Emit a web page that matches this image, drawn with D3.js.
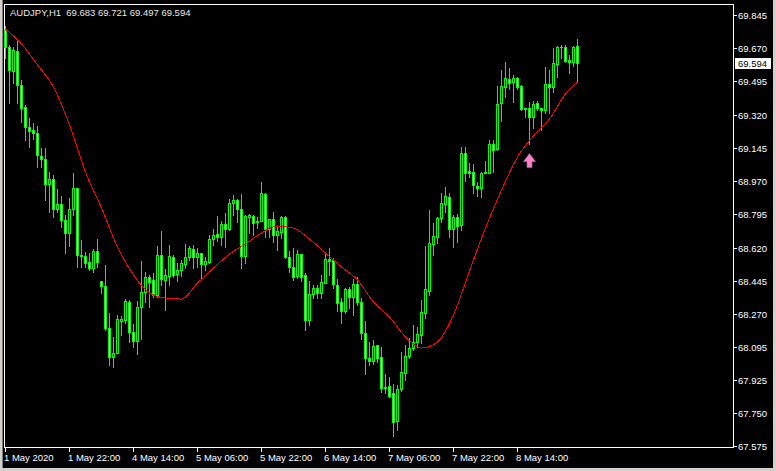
<!DOCTYPE html>
<html><head><meta charset="utf-8">
<script src="https://cdn.jsdelivr.net/npm/d3@7"></script>
<style>html,body{margin:0;padding:0;background:#000;}svg{display:block;}</style>
</head><body>
<script>
const symbolTitle = "AUDJPY,H1  69.683 69.721 69.497 69.594";
const open = [69.766,69.676,69.550,69.655,69.476,69.360,69.255,69.239,69.224,69.102,
69.087,68.955,68.981,68.823,68.850,68.765,68.697,68.823,68.934,68.581,
68.576,68.544,68.512,68.602,68.444,68.418,68.196,68.044,68.065,68.233,
68.239,68.333,68.175,68.128,68.307,68.386,68.465,68.449,68.370,68.581,
68.449,68.470,68.570,68.481,68.502,68.534,68.570,68.613,68.570,68.591,
68.534,68.544,68.665,68.692,68.676,68.744,68.718,68.855,68.871,68.823,
68.576,68.781,68.786,68.755,68.760,68.902,68.718,68.771,68.686,68.702,
68.781,68.570,68.518,68.470,68.586,68.476,68.239,68.376,68.407,68.381,
68.433,68.560,68.555,68.423,68.333,68.286,68.402,68.360,68.428,68.333,
68.170,68.038,68.023,68.107,68.044,67.880,67.891,67.854,67.707,67.875,
67.959,68.049,68.091,68.123,68.160,68.275,68.391,68.639,68.676,68.776,
68.850,68.886,68.718,68.781,68.739,69.118,69.023,69.018,68.944,68.934,
69.018,69.013,69.166,69.139,69.381,69.466,69.508,69.492,69.513,69.471,
69.350,69.355,69.308,69.381,69.355,69.345,69.482,69.466,69.587,69.676,
69.676,69.608,69.597,69.683];
const high = [69.787,69.687,69.676,69.713,69.503,69.371,69.303,69.276,69.260,69.145,
69.145,69.018,69.002,68.929,68.892,68.792,68.881,69.013,68.934,68.660,
68.597,68.591,68.613,68.665,68.444,68.528,68.275,68.149,68.265,68.260,
68.349,68.344,68.218,68.339,68.549,68.491,68.476,68.486,68.628,68.707,
68.507,68.634,68.581,68.539,68.555,68.639,68.628,68.634,68.618,68.591,
68.570,68.686,68.718,68.786,68.760,68.802,68.876,68.897,68.876,68.902,
68.792,68.797,68.792,68.781,68.965,68.908,68.771,68.807,68.728,68.786,
68.786,68.602,68.618,68.607,68.586,68.486,68.444,68.423,68.423,68.476,
68.591,68.618,68.565,68.455,68.354,68.407,68.412,68.455,68.465,68.354,
68.233,68.123,68.133,68.107,68.096,67.954,67.938,67.902,67.896,68.070,
68.107,68.144,68.212,68.202,68.344,68.628,68.818,68.750,68.781,68.908,
68.939,68.908,68.792,68.797,69.150,69.150,69.066,69.060,68.965,69.018,
69.076,69.187,69.187,69.471,69.555,69.597,69.566,69.529,69.518,69.476,
69.355,69.387,69.392,69.392,69.355,69.571,69.555,69.671,69.682,69.687,
69.687,69.634,69.682,69.721];
const low = [69.619,69.381,69.487,69.381,69.281,69.187,69.150,69.192,69.044,69.044,
68.871,68.807,68.781,68.807,68.728,68.591,68.628,68.792,68.518,68.518,
68.518,68.502,68.491,68.518,68.381,68.186,68.002,67.991,68.065,68.160,
68.223,68.123,68.096,68.060,68.139,68.333,68.307,68.360,68.360,68.423,
68.291,68.423,68.465,68.444,68.470,68.512,68.555,68.512,68.518,68.455,
68.502,68.539,68.634,68.655,68.634,68.623,68.713,68.792,68.755,68.512,
68.539,68.697,68.686,68.723,68.760,68.676,68.676,68.649,68.607,68.670,
68.565,68.491,68.449,68.460,68.444,68.186,68.212,68.354,68.354,68.354,
68.433,68.476,68.407,68.286,68.223,68.275,68.302,68.265,68.318,68.139,
67.954,68.002,68.007,68.017,67.859,67.854,67.833,67.628,67.659,67.865,
67.923,68.038,68.081,68.096,68.117,68.249,68.370,68.581,68.644,68.755,
68.807,68.676,68.623,68.649,68.713,68.971,68.992,68.908,68.892,68.886,
69.013,69.013,69.018,69.134,69.287,69.413,69.455,69.387,69.455,69.345,
69.308,69.166,69.250,69.345,69.239,69.329,69.329,69.439,69.518,69.619,
69.597,69.540,69.576,69.497];
const close = [69.676,69.555,69.661,69.476,69.355,69.255,69.234,69.224,69.108,69.087,
68.955,68.981,68.823,68.850,68.765,68.697,68.823,68.934,68.581,68.576,
68.539,68.512,68.602,68.544,68.418,68.196,68.044,68.065,68.244,68.244,
68.339,68.175,68.128,68.307,68.386,68.465,68.439,68.370,68.581,68.455,
68.476,68.576,68.476,68.502,68.539,68.570,68.618,68.570,68.591,68.534,
68.549,68.665,68.686,68.676,68.744,68.718,68.855,68.871,68.823,68.576,
68.786,68.792,68.750,68.760,68.908,68.718,68.771,68.686,68.707,68.781,
68.570,68.518,68.465,68.586,68.465,68.239,68.376,68.407,68.381,68.439,
68.560,68.549,68.428,68.328,68.286,68.402,68.360,68.428,68.333,68.170,
68.038,68.023,68.102,68.038,67.880,67.886,67.838,67.701,67.875,67.965,
68.049,68.091,68.123,68.165,68.281,68.402,68.644,68.681,68.776,68.855,
68.892,68.718,68.781,68.734,69.118,69.013,69.013,68.950,68.934,69.013,
69.013,69.166,69.134,69.376,69.471,69.513,69.487,69.513,69.466,69.350,
69.355,69.308,69.376,69.355,69.345,69.482,69.466,69.592,69.676,69.676,
69.603,69.597,69.676,69.594];
const maIndex = [0,4,8,12,16,20,24,28,32,36,40,44,48,52,56,60,64,68,72,76,80,84,88,92,96,100,104,108,112,116,120,124,128,132,136,140,143];
const maValue = [69.771,69.692,69.582,69.466,69.266,69.018,68.829,68.623,68.476,68.381,68.354,68.349,68.433,68.512,68.586,68.639,68.697,68.734,68.723,68.665,68.591,68.518,68.449,68.333,68.254,68.149,68.091,68.123,68.265,68.497,68.723,68.923,69.097,69.208,69.297,69.429,69.492];
const timeTickIndex = [0,16,32,48,64,80,96,112,128];
const timeTickLabels = ["1 May 2020","1 May 22:00","4 May 14:00","5 May 06:00","5 May 22:00","6 May 14:00","7 May 06:00","7 May 22:00","8 May 14:00"];
const priceTicks = [69.845,69.670,69.495,69.320,69.145,68.970,68.795,68.620,68.445,68.270,68.095,67.925,67.750,67.575];
const lastPrice = 69.594;
const arrowIndex = 131, arrowPrice = 69.115;

const W = 776, H = 471;
const svg = d3.select("body").append("svg").attr("width", W).attr("height", H)
  .style("font-family", "'Liberation Sans', Arial, sans-serif");
svg.append("rect").attr("width", W).attr("height", H).attr("fill", "#000");

const x = d3.scaleLinear().domain([0, 143]).range([5, 577]);
const y = d3.scaleLinear().domain([67.575, 69.845]).range([446, 15]);
const py = v => Math.round(y(v));

// window frame (gray)
svg.append("rect").attr("x",0).attr("y",0).attr("width",2).attr("height",H).attr("fill","#d4d0c8");
svg.append("rect").attr("x",2).attr("y",0).attr("width",1).attr("height",H).attr("fill","#808080");
svg.append("rect").attr("x",W-3).attr("y",0).attr("width",3).attr("height",H).attr("fill","#d4d0c8");
svg.append("rect").attr("x",0).attr("y",H-3).attr("width",W).attr("height",3).attr("fill","#d4d0c8");

// chart border
const g = svg.append("g").attr("shape-rendering","crispEdges");
g.append("rect").attr("x",4.5).attr("y",4.5).attr("width",729).attr("height",443)
  .attr("fill","none").attr("stroke","#fff").attr("stroke-width",1);

// candles
const data = open.map((o,i)=>({i,o,h:high[i],l:low[i],c:close[i]}));
const cg = g.append("g");
data.forEach(d=>{
  const cx = Math.round(x(d.i));
  const yh = py(d.h), yl = py(d.l);
  cg.append("rect").attr("x",cx).attr("y",yh).attr("width",1).attr("height",yl-yh+1).attr("fill","#00ff00");
  const top = py(Math.max(d.o,d.c)), bot = py(Math.min(d.o,d.c));
  cg.append("rect").attr("x",cx-1).attr("y",top).attr("width",3).attr("height",bot-top+1).attr("fill","#00ff00");
  if (bot-top >= 2) {
    cg.append("rect").attr("x",cx).attr("y",top+1).attr("width",1).attr("height",bot-top-1)
      .attr("fill", d.c < d.o ? "#ffffff" : "#000000");
  }
});

// moving average
const maPts = maIndex.map((k,j)=>[x(k)+0.5, y(maValue[j])]);
svg.append("path").attr("d", d3.line().curve(d3.curveMonotoneX)(maPts)).attr("fill","none")
  .attr("stroke","#ff0000").attr("stroke-width",1).attr("shape-rendering","crispEdges");

// arrow
const ax = x(arrowIndex)+0.5, at = y(arrowPrice);
svg.append("path").attr("d",
  `M${ax},${at} L${ax+6},${at+8} L${ax+2.5},${at+8} L${ax+2.5},${at+14} L${ax-2.5},${at+14} L${ax-2.5},${at+8} L${ax-6},${at+8} Z`)
  .attr("fill","#ff80c0").attr("stroke","#a070c0").attr("stroke-width",0.6);

// price axis
priceTicks.forEach(p=>{
  const yy = Math.round(y(p));
  g.append("rect").attr("x",734).attr("y",yy).attr("width",3).attr("height",1).attr("fill","#fff");
  svg.append("text").attr("x",738).attr("y",yy+4).attr("fill","#fff").attr("font-size","9.5px").text(p.toFixed(3));
});
// current price label
const ly = Math.round(y(lastPrice));
g.append("rect").attr("x",735).attr("y",ly-5).attr("width",36).attr("height",11).attr("fill","#fff");
svg.append("text").attr("x",738).attr("y",ly+4).attr("fill","#000").attr("font-size","9.5px").text(lastPrice.toFixed(3));

// time axis
timeTickIndex.forEach((k,j)=>{
  const xx = Math.round(x(k));
  g.append("rect").attr("x",xx).attr("y",448).attr("width",1).attr("height",4).attr("fill","#fff");
  svg.append("text").attr("x",xx-1).attr("y",461).attr("fill","#fff").attr("font-size","9.5px").text(timeTickLabels[j]);
});

// title
svg.append("text").attr("x",10).attr("y",16).attr("fill","#e8e8e8").attr("font-size","9.5px")
  .style("white-space","pre").text(symbolTitle);
</script>
</body></html>
